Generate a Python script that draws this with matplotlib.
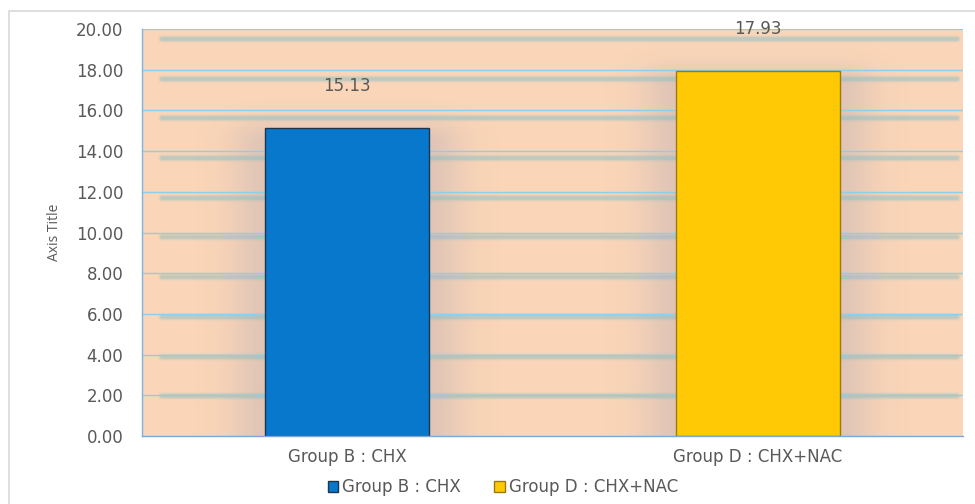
import numpy as np
import matplotlib
matplotlib.use("Agg")
import matplotlib.pyplot as plt
from matplotlib.patches import Rectangle

# Data
categories = ["Group B : CHX", "Group D : CHX+NAC"]
values = [15.13, 17.93]
value_labels = ["15.13", "17.93"]
bar_colors = ["#0878CC", "#FFC906"]
edge_colors = ["#1E3550", "#9A7A10"]
y_ticks = [0, 2, 4, 6, 8, 10, 12, 14, 16, 18, 20]

plt.rcParams["font.family"] = ["DejaVu Sans"]
text_gray = "#595959"

W, H = 975, 504
fig = plt.figure(figsize=(W / 100, H / 100), dpi=100)
fig.patch.set_facecolor("white")

# Outer chart border
fig.patches.append(Rectangle((9 / W, -0.01), 1.0, (504 - 11) / H + 0.01,
                             transform=fig.transFigure, fill=False,
                             edgecolor="#D9D9D9", linewidth=1.2, zorder=0))

left, right, bottom, top = 142 / W, 963 / W, (H - 436) / H, (H - 29) / H
ax = fig.add_axes([left, bottom, right - left, top - bottom])
ax.set_facecolor("#FAD5B8")

x = np.arange(len(categories))
ax.set_xlim(-0.5, len(categories) - 0.5)
ax.set_ylim(0, 20)

px_x = (right - left) * W / 2.0      # pixels per x unit
px_y = (top - bottom) * H / 20.0     # pixels per y unit

# Soft glow behind the bars
bw = 0.4
nx, ny = 900, 420
gx = np.linspace(-0.5, len(categories) - 0.5, nx)
gy = np.linspace(0, 20, ny)
GX, GY = np.meshgrid(gx, gy)
alpha = np.zeros_like(GX)
sig = 34 / px_x
for xi, v in zip(x, values):
    dx = np.clip(np.abs(GX - xi) - bw / 2, 0, None)
    dy = np.clip(GY - (v - 14 / px_y), 0, None) * px_y / px_x
    d = np.hypot(dx, dy * 1.6)
    a = 0.28 * np.exp(-(d / sig) ** 2)
    alpha = np.maximum(alpha, a)
shadow = np.zeros((ny, nx, 4))
shadow[..., 0] = 0.62
shadow[..., 1] = 0.62
shadow[..., 2] = 0.70
shadow[..., 3] = alpha
ax.imshow(shadow, extent=(-0.5, len(categories) - 0.5, 0, 20), origin="lower",
          aspect="auto", interpolation="bilinear", zorder=0.5)

# Gridlines and their blurred shadows (shadow offset grows with height)
x0s = -0.5 + 20 / px_x
x1s = -0.5 + 815 / px_x
for t in y_ticks[1:]:
    off = (0.5 * t) / px_y
    for lw, a in [(6, 0.09), (4.2, 0.18), (2.6, 0.36)]:
        ax.plot([x0s, x1s], [t - off, t - off], color="#8CC0C6", lw=lw,
                alpha=a, solid_capstyle="round", zorder=0.8)
for t in y_ticks[1:]:
    ax.axhline(t, color="#8CCFEA", lw=1.0, zorder=0.9)

# Bars
ax.bar(x, values, width=bw, color=bar_colors, edgecolor=edge_colors,
       linewidth=1.0, zorder=2)

# Value labels
for xi, v, s in zip(x, values, value_labels):
    ax.text(xi, v + 42 / px_y, s, ha="center", va="center", fontsize=12,
            color=text_gray, zorder=3)

# Axes styling
for s in ["top", "right"]:
    ax.spines[s].set_visible(False)
ax.spines["left"].set_color("#7FB2E0")
ax.spines["bottom"].set_color("#7FA6D8")
ax.spines["left"].set_linewidth(1.0)
ax.spines["bottom"].set_linewidth(1.0)
ax.set_yticks(y_ticks)
ax.set_yticklabels([f"{t:.2f}" for t in y_ticks], fontsize=12, color=text_gray)
ax.set_xticks(x)
ax.set_xticklabels(categories, fontsize=12, color=text_gray)
ax.tick_params(axis="y", length=0, pad=13.5)
ax.tick_params(axis="x", length=0, pad=9)
ax.set_ylabel("Axis Title", fontsize=10, color=text_gray,
              family=["Open Sans", "DejaVu Sans"])
ax.yaxis.set_label_coords(-80 / ((right - left) * W), 0.5)

# Legend
handles = [Rectangle((0, 0), 1, 1, facecolor=c, edgecolor=e, lw=1.0)
           for c, e in zip(bar_colors, edge_colors)]
leg = fig.legend(handles, categories, loc="center", bbox_to_anchor=(503 / W, 1 - 487 / H),
                 ncol=2, frameon=False, fontsize=12, handlelength=0.62,
                 handleheight=0.62, handletextpad=0.25, columnspacing=2.0)
for t in leg.get_texts():
    t.set_color(text_gray)

fig.savefig("out.png", dpi=100, facecolor="white")
